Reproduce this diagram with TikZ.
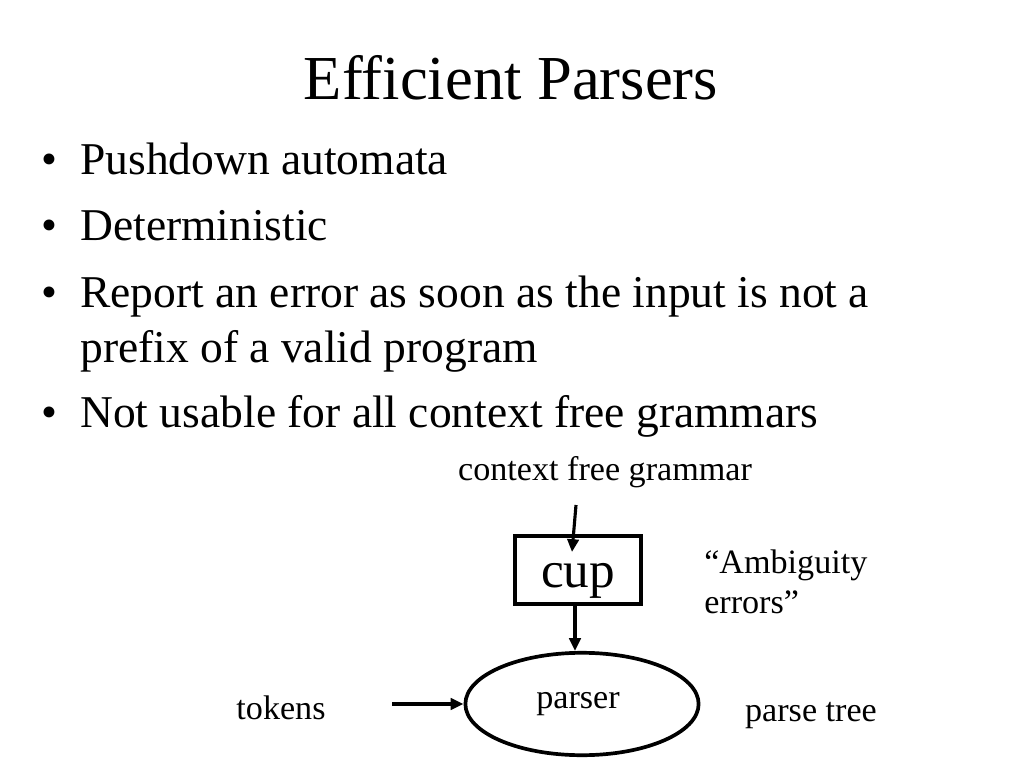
\documentclass[tikz,border=0pt]{standalone}
\usepackage{fontspec}
\setmainfont{Liberation Serif}
\usetikzlibrary{shapes.geometric, arrows.meta}
\tikzset{>={Triangle[length=9pt, width=8pt]}}

\tikzset{
  bullettext/.style={anchor=base west, inner sep=0pt, font=\fontsize{32}{38}\selectfont},
  smalltext/.style={inner sep=0pt, font=\fontsize{24}{29}\selectfont},
  flow/.style={->, line width=2.2pt}
}

\begin{document}
\begin{tikzpicture}[x=0.703125pt, y=-0.703125pt]
    \useasboundingbox[fill=white] (0,0) rectangle (1024,768);
    % title and bullets
    \node[anchor=base, inner sep=0pt, font=\fontsize{44}{53}\selectfont] (title) at (511,100) {Efficient Parsers};
    \foreach \y/\txt in {175/Pushdown automata, 241/Deterministic, 308/Report an error as soon as the input is not a, 427/Not usable for all context free grammars} {
        \node[bullettext, anchor=base] at (49,\y) {\textbullet};
        \node[bullettext] at (80,\y) {\txt};
    }
    \node[bullettext] (prefix) at (80,362) {prefix of a valid program};
    % the diagram
    \node[smalltext, anchor=base] (grammar) at (605,480) {context free grammar};
    \node[draw, line width=2.8pt, minimum width=88pt, minimum height=48pt, inner sep=0pt] (cup) at (578,570) {};
    \node[anchor=base, inner sep=0pt, font=\rmfamily\fontsize{36}{43}\selectfont] (cuptext) at (578,587) {cup};
    \node[draw, ellipse, line width=2.6pt, minimum width=164pt, minimum height=72pt, inner sep=0pt] (parser) at (582,704) {};
    \node[smalltext, anchor=base] (parsertext) at (578,708) {parser};
    \node[smalltext, anchor=base] (tokens) at (281,719) {tokens};
    \node[smalltext, anchor=base] (tree) at (811,721) {parse tree};
    \node[smalltext, anchor=base west] (ambig) at (704,573) {``Ambiguity};
    \node[smalltext, anchor=base west] (errors) at (704,613) {errors''};
    \coordinate (gtop) at (576,505);
    \coordinate (gtip) at (572,552);
    \coordinate (tin) at (392,704);
    \draw[flow] (gtop) -- (gtip);
    \draw[flow] (cup.south -| 575,0) -- (parser.north -| 575,0);
    \draw[flow] (tin) -- (parser.west);
\end{tikzpicture}
\end{document}
